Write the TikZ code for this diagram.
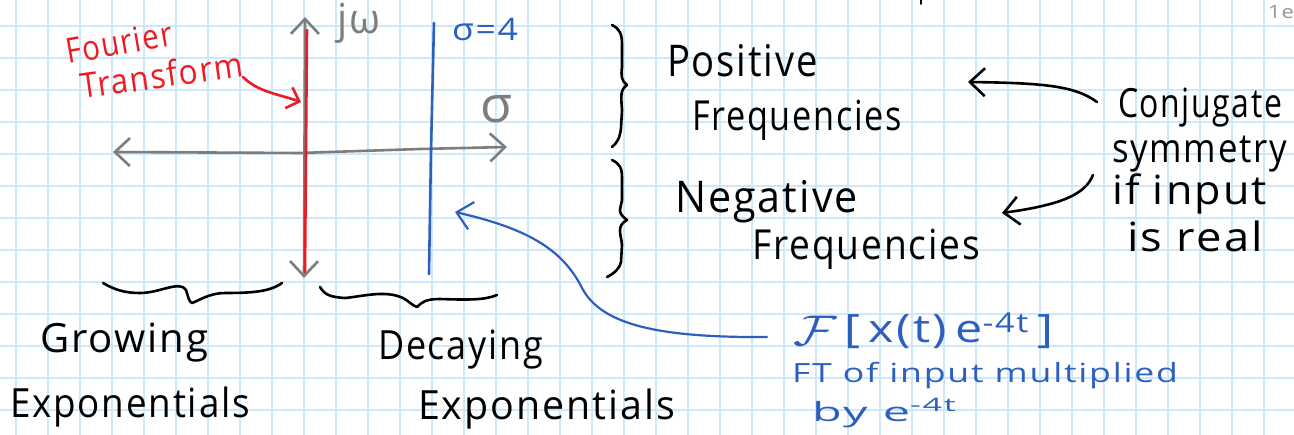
\documentclass[tikz,border=0pt]{standalone}
\usepackage{graphicx}
\usepackage{fontspec}
\setmainfont{Open Sans}[LetterSpace=5]
\usetikzlibrary{arrows.meta}
\definecolor{gridc}{RGB}{204,232,250}
\definecolor{axisgray}{RGB}{125,125,125}
\definecolor{inkred}{RGB}{237,28,36}
\definecolor{inkblue}{RGB}{45,95,190}
\definecolor{pagegray}{RGB}{150,150,150}
% #1 font size, #2 target width, #3 text
\newcommand\fw[3]{\resizebox{#2pt}{\height}{\scalebox{1}[1.15]{\fontsize{#1}{#1}\selectfont #3}}}
\begin{document}
\begin{tikzpicture}[x=1pt,y=-1pt,
  gridline/.style={gridc,line width=2pt},
  ink/.style={line width=2.6pt,line cap=round,line join=round},
  barb/.style={-{Straight Barb[length=15pt,width=28pt]}},
  barbs/.style={{Straight Barb[length=15pt,width=28pt]}-{Straight Barb[length=15pt,width=28pt]}},
  smallbarb/.style={-{Straight Barb[length=11pt,width=22pt]}},
  lbl/.style={inner sep=0pt,outer sep=0pt,anchor=base west}]
\fill[white] (0,0) rectangle (1294,435);
\useasboundingbox (0,0) rectangle (1294,435);
% grid
\foreach \i in {0,...,40} \draw[gridline] ({16+32*\i},0) -- ({16+32*\i},435);
\foreach \j in {0,...,12} \draw[gridline] (0,{26+32*\j}) -- (1294,{26+32*\j});

% axes
\coordinate (axL) at (113,152);
\coordinate (axR) at (507,147);
\coordinate (axT) at (305,17);
\coordinate (axB) at (304,278);
\draw[ink,axisgray,barbs] (axL) -- (300,153) -- (420,149) -- (axR);
\draw[ink,axisgray,barbs] (axT) -- (axB);
\coordinate (redT) at (307,30);
\coordinate (redB) at (305,272);
\draw[ink,inkred] (redT) -- (redB);
\coordinate (blueT) at (434,23);
\coordinate (blueB) at (429,274);
\draw[ink,inkblue] (blueT) -- (431,150) -- (blueB);

% axis labels
\node[lbl,axisgray] (jw) at (337,34) {\fw{36}{43}{jω}};
\node[lbl,axisgray] (sig) at (480,123) {\fw{44}{32}{σ}};
\node[lbl,inkblue] (sig4) at (452,41) {\fw{27}{66}{σ=4}};

% Fourier transform label
\node[lbl,inkred,rotate=10] (fourier) at (68,64) {\fw{30}{108}{Fourier}};
\node[lbl,inkred,rotate=8] (transform) at (82,99) {\fw{30}{164}{Transform}};
\coordinate (ftTail) at (243,77);
\coordinate (ftTip) at (301,102);
\draw[ink,inkred,smallbarb] (ftTail) .. controls (258,92) and (278,94) .. (ftTip);

% right braces
\draw[ink] (612,25) .. controls (620,29) and (622,34) .. (622,45) -- (622,67)
  .. controls (621,76) and (621,80) .. (627,85)
  .. controls (620,90) and (621,96) .. (622,110) -- (621,128)
  .. controls (620,138) and (617,143) .. (612,147);
\draw[ink] (612,160) .. controls (620,164) and (622,168) .. (622,178) -- (622,200)
  .. controls (621,208) and (616,212) .. (627,220)
  .. controls (616,226) and (621,234) .. (622,245) -- (621,262)
  .. controls (619,270) and (613,274) .. (607,277);

% frequency labels
\node[lbl] (pos1) at (667,77) {\fw{38}{151}{Positive}};
\node[lbl] (pos2) at (692,131) {\fw{36}{210}{Frequencies}};
\node[lbl] (neg1) at (675,213) {\fw{38}{183}{Negative}};
\node[lbl] (neg2) at (752,260) {\fw{36}{228}{Frequencies}};

% conjugate symmetry
\node[lbl] (conj) at (1118,118) {\fw{35}{164}{Conjugate}};
\node[lbl] (sym) at (1112,163) {\fw{35}{175}{symmetry}};
\node[lbl] (ifin) at (1112,205) {\fw{35}{155}{if input}};
\node[lbl] (isreal) at (1127,252) {\fw{35}{136}{is real}};
\coordinate (c1Tail) at (1097,102);
\coordinate (c1Tip) at (968,82);
\draw[ink,barb] (c1Tail) .. controls (1075,86) and (1045,83) .. (c1Tip);
\coordinate (c2Tail) at (1093,175);
\coordinate (c2Tip) at (1002,213);
\draw[ink,barb] (c2Tail) .. controls (1085,195) and (1060,205) .. (c2Tip);

% bottom braces
\draw[ink] (103,283) .. controls (115,290) and (125,293) .. (140,293)
  .. controls (160,293) and (180,280) .. (186,290)
  .. controls (188,296) and (189,302) .. (192,303)
  .. controls (200,300) and (210,293) .. (225,293)
  .. controls (250,293) and (270,292) .. (282,283);
\draw[ink] (320,287) .. controls (325,295) and (330,297) .. (345,298)
  .. controls (365,296) and (385,290) .. (403,298)
  .. controls (410,302) and (413,306) .. (417,307)
  .. controls (422,302) and (426,299) .. (440,299)
  .. controls (470,300) and (485,300) .. (497,295);
\node[lbl] (grow) at (40,353) {\fw{35}{168}{Growing}};
\node[lbl] (expL) at (10,418) {\fw{35}{240}{Exponentials}};
\node[lbl] (decay) at (378,360) {\fw{35}{165}{Decaying}};
\node[lbl] (expR) at (418,420) {\fw{35}{257}{Exponentials}};

% blue annotation
\node[lbl,inkblue] (ftx) at (793,343) {\fw{34}{260}{\raisebox{-2pt}{\scalebox{1.5}{$\mathcal{F}$}}\,[\,x(t)\,e\textsuperscript{-4t}\,]}};
\node[lbl,inkblue] (ftof) at (792,383) {\fw{23}{386}{FT of input multiplied}};
\node[lbl,inkblue] (bye) at (812,422) {\fw{23}{145}{by e\textsuperscript{-4t}}};
\coordinate (bTail) at (767,337);
\coordinate (bTip) at (455,212);
\draw[ink,inkblue,line width=2.2pt,barb] (bTail) .. controls (650,338) and (600,322) .. (582,288)
  .. controls (562,248) and (525,228) .. (bTip);

% page marks
\node[lbl,pagegray] (pg) at (1268,19) {\fw{16}{26}{1e}};
\draw[ink,line width=2pt] (921,0) -- (921,4);
\end{tikzpicture}
\end{document}
